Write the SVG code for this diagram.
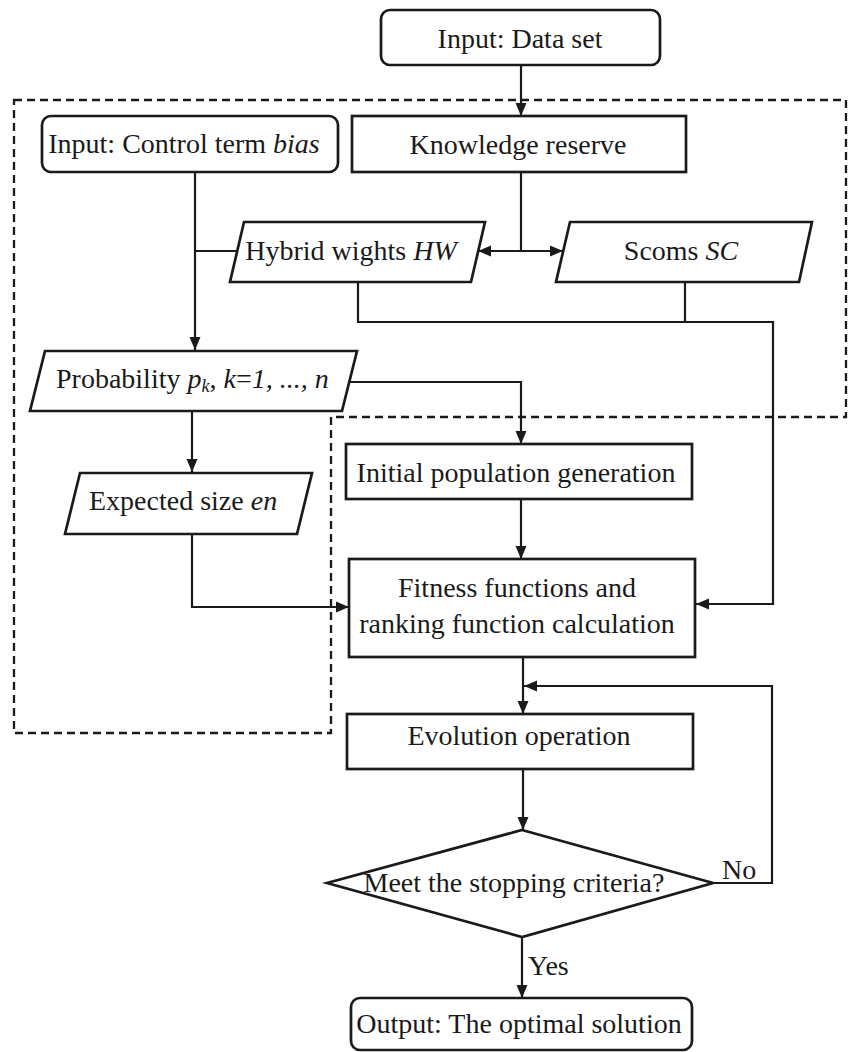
<svg xmlns="http://www.w3.org/2000/svg" width="849" height="1052" viewBox="0 0 849 1052">
<style>
.box{fill:#fff;stroke:#1a1a1a;stroke-width:2.7}
.t{font-family:"Liberation Serif","Times New Roman",serif;font-size:28px;fill:#1a1a1a}
.m{text-anchor:middle}
.i{font-style:italic}
.c{fill:none;stroke:#1a1a1a;stroke-width:2.2}
.dash{fill:none;stroke:#1a1a1a;stroke-width:2.3;stroke-dasharray:8 5}
</style>
<defs>
<marker id="ah" markerUnits="userSpaceOnUse" markerWidth="14" markerHeight="12" refX="13" refY="6" orient="auto-start-reverse">
<path d="M0,0.5 L13,6 L0,11.5 z" fill="#1a1a1a"/>
</marker>
</defs>
<rect width="849" height="1052" fill="#fff"/>
<path class="dash" d="M14,100 H846 V417 H331 V733 H14 Z"/>
<g id="connectors">
<path class="c" d="M521,65 V116" marker-end="url(#ah)"/>
<path class="c" d="M521,172 V251"/>
<path class="c" d="M478,251 H563" marker-start="url(#ah)" marker-end="url(#ah)"/>
<path class="c" d="M195,172 V350" marker-end="url(#ah)"/>
<path class="c" d="M195,251 H237"/>
<path class="c" d="M358,282 V322 H773 V604 H696" marker-end="url(#ah)"/>
<path class="c" d="M685,282 V322"/>
<path class="c" d="M349,382 H521 V444" marker-end="url(#ah)"/>
<path class="c" d="M192,411 V472" marker-end="url(#ah)"/>
<path class="c" d="M192,534 V607 H349" marker-end="url(#ah)"/>
<path class="c" d="M521,499 V559" marker-end="url(#ah)"/>
<path class="c" d="M523,657 V714" marker-end="url(#ah)"/>
<path class="c" d="M523,769 V830" marker-end="url(#ah)"/>
<path class="c" d="M713,883 H772 V686 H524" marker-end="url(#ah)"/>
<path class="c" d="M522,937 V998" marker-end="url(#ah)"/>
<text class="t" x="722" y="879">No</text>
<text class="t" x="528" y="975">Yes</text>
</g>
<g id="input-data">
<rect class="box" x="381" y="10" width="279" height="55" rx="9"/>
<text class="t m" x="520" y="48">Input: Data set</text>
</g>
<g id="input-bias">
<rect class="box" x="42" y="116" width="296" height="56" rx="9"/>
<text class="t m" x="184" y="153">Input: Control term <tspan class="i">bias</tspan></text>
</g>
<g id="knowledge">
<rect class="box" x="352" y="116" width="334" height="56"/>
<text class="t m" x="518" y="154">Knowledge reserve</text>
</g>
<g id="hybrid">
<polygon class="box" points="244,222 485,222 471,282 230,282"/>
<text class="t m" x="351" y="260">Hybrid wights <tspan class="i">HW</tspan></text>
</g>
<g id="scoms">
<polygon class="box" points="570,222 812,222 799,282 556,282"/>
<text class="t m" x="681" y="260">Scoms <tspan class="i">SC</tspan></text>
</g>
<g id="probability">
<polygon class="box" points="45,351 357,351 342,411 30,411"/>
<text class="t" x="56" y="388">Probability <tspan class="i">p</tspan><tspan class="i" font-size="18" dy="4">k</tspan><tspan dy="-4">, </tspan><tspan class="i">k</tspan>=<tspan class="i">1, ..., n</tspan></text>
</g>
<g id="expected">
<polygon class="box" points="80,473 312,473 297,534 65,534"/>
<text class="t" x="89" y="510">Expected size <tspan class="i">en</tspan></text>
</g>
<g id="initial">
<rect class="box" x="346" y="444" width="346" height="55"/>
<text class="t m" x="516" y="482">Initial population generation</text>
</g>
<g id="fitness">
<rect class="box" x="349" y="559" width="346" height="98"/>
<text class="t m" x="517" y="597">Fitness functions and</text>
<text class="t m" x="517" y="633">ranking function calculation</text>
</g>
<g id="evolution">
<rect class="box" x="347" y="714" width="346" height="55"/>
<text class="t m" x="519" y="745">Evolution operation</text>
</g>
<g id="decision">
<polygon class="box" points="522,830 713,883 522,937 327,883"/>
<text class="t m" x="514" y="892">Meet the stopping criteria?</text>
</g>
<g id="output">
<rect class="box" x="351" y="998" width="341" height="52" rx="9"/>
<text class="t m" x="519" y="1033">Output: The optimal solution</text>
</g>
</svg>
